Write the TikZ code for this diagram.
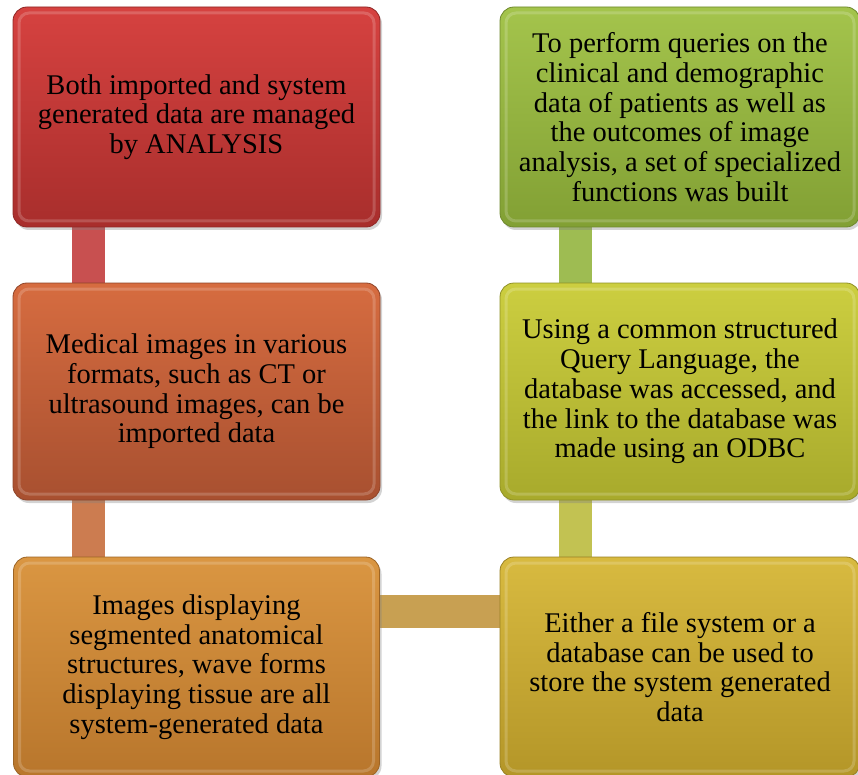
\documentclass[tikz,border=0pt]{standalone}
\usepackage{fontspec}
\setmainfont{Liberation Serif}
\usetikzlibrary{backgrounds,shadows}

% card colours (top / bottom) and connector colours
\definecolor{redT}{RGB}{214,66,64}     \definecolor{redB}{RGB}{168,46,44}
\definecolor{rustT}{RGB}{214,108,64}   \definecolor{rustB}{RGB}{168,80,48}
\definecolor{goldT}{RGB}{218,150,66}   \definecolor{goldB}{RGB}{184,118,44}
\definecolor{limeT}{RGB}{164,196,76}   \definecolor{limeB}{RGB}{130,160,52}
\definecolor{oliveT}{RGB}{204,206,64}  \definecolor{oliveB}{RGB}{168,170,44}
\definecolor{mustT}{RGB}{216,186,64}   \definecolor{mustB}{RGB}{180,150,40}
\definecolor{redL}{RGB}{200,80,80}
\definecolor{rustL}{RGB}{204,124,80}
\definecolor{goldL}{RGB}{200,160,82}
\definecolor{oliveL}{RGB}{194,194,82}
\definecolor{limeL}{RGB}{158,188,82}

\tikzset{
  x=1pt, y=-1pt,
  card/.style 2 args={
    rounded corners=14pt, minimum width=367pt, minimum height=220pt,
    inner sep=0pt, align=center, text=black,
    font=\fontsize{28.5}{29.7}\selectfont,
    top color=#1, bottom color=#2, draw=#2!85!black, line width=0.8pt,
    drop shadow={shadow xshift=2pt, shadow yshift=-3pt, opacity=0.35},
    path picture={
      \draw[white, opacity=0.18, line width=3pt, rounded corners=10pt]
        ([shift={(6pt,-6pt)}]path picture bounding box.north west) rectangle
        ([shift={(-6pt,6pt)}]path picture bounding box.south east);
    }
  },
  link/.style={line width=33pt, draw=#1}
}

\begin{document}
\begin{tikzpicture}
\useasboundingbox (0,0) rectangle (858,775);
\begin{scope}
\clip (0,0) rectangle (858,775);

% left column
\node[card={redT}{redB}] (b1) at (196.5,117)
  {Both imported and system\\generated data are managed\\by ANALYSIS};
\node[card={rustT}{rustB}, minimum height=217pt] (b2) at (196.5,391.5)
  {Medical images in various\\formats, such as CT or\\ultrasound images, can be\\imported data};
\node[card={goldT}{goldB}, minimum width=366pt] (b3) at (196.5,667)
  {Images displaying\\segmented anatomical\\structures, wave forms\\displaying tissue are all\\system-generated data};

% right column
\node[card={limeT}{limeB}, minimum width=360pt] (b6) at (680,117)
  {To perform queries on the\\clinical and demographic\\data of patients as well as\\the outcomes of image\\analysis, a set of specialized\\functions was built};
\node[card={oliveT}{oliveB}, minimum width=360pt, minimum height=217pt] (b5) at (680,391.5)
  {Using a common structured\\Query Language, the\\database was accessed, and\\the link to the database was\\made using an ODBC};
\node[card={mustT}{mustB}, minimum width=360pt] (b4) at (680,667)
  {Either a file system or a\\database can be used to\\store the system generated\\data};

% connectors behind the cards
\begin{scope}[on background layer]
  \draw[link=redL]   ([xshift=-108pt]b1.south) -- ([xshift=-108pt]b2.north);
  \draw[link=rustL]  ([xshift=-108pt]b2.south) -- ([xshift=-108pt]b3.north);
  \draw[link=goldL]  ([yshift=56pt]b3.east) -- ([yshift=56pt]b4.west);
  \draw[link=oliveL] ([xshift=-104.5pt]b4.north) -- ([xshift=-104.5pt]b5.south);
  \draw[link=limeL]  ([xshift=-104.5pt]b5.north) -- ([xshift=-104.5pt]b6.south);
\end{scope}
\end{scope}
\end{tikzpicture}
\end{document}
